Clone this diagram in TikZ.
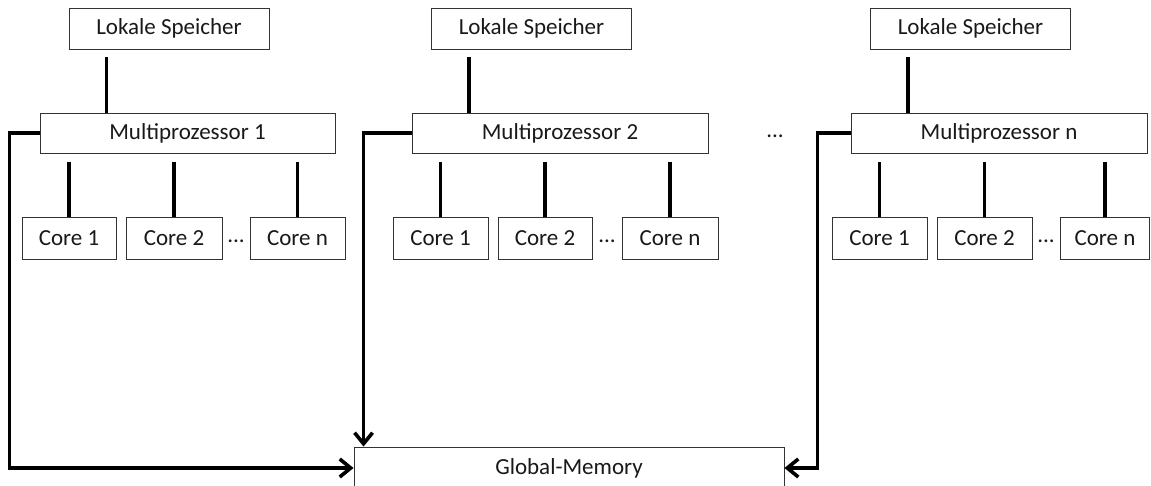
\documentclass[tikz,border=0pt]{standalone}
\usepackage{fontspec}
\setmainfont{Carlito}
\usetikzlibrary{arrows.meta,calc}
\begin{document}
\begin{tikzpicture}[x=1pt,y=-1pt,
  box/.style={draw=black!80,line width=0.9pt,fill=white,inner sep=0pt,
    font=\fontsize{23}{27}\selectfont,text=black!90},
  lsbox/.style={box,minimum width=200pt,minimum height=41pt},
  mpbox/.style={box,minimum width=296pt,minimum height=40pt},
  corebox/.style={box,minimum width=95pt,minimum height=42pt},
  conn/.style={line width=3.6pt,black},
  arr/.style={conn,-{Straight Barb[length=11pt,width=18pt,line width=3.6pt]}},
  dots/.style={inner sep=0pt,font=\fontsize{23}{27}\selectfont,text=black!90}]
\useasboundingbox (0,0) rectangle (1151,486);
\clip (0,0) rectangle (1151,486);
% Lokale Speicher
\node[lsbox] (ls1) at (169,28.5) {Lokale Speicher};
\node[lsbox] (ls2) at (531.5,28.5) {Lokale Speicher};
\node[lsbox] (ls3) at (970.5,28.5) {Lokale Speicher};
% Multiprozessoren
\node[mpbox,minimum width=295pt] (mp1) at (187.5,133) {Multiprozessor 1};
\node[mpbox] (mp2) at (560,133) {Multiprozessor 2};
\node[mpbox] (mp3) at (999,133) {Multiprozessor n};
\node[dots] (d0) at (775,136) {...};
% Cores
\node[corebox,minimum width=94pt] (c11) at (69,238) {Core 1};
\node[corebox,minimum width=96pt] (c12) at (174,238) {Core 2};
\node[corebox] (c1n) at (297.5,238) {Core n};
\node[dots] (d1) at (236,241) {...};
\node[corebox] (c21) at (440.5,238) {Core 1};
\node[corebox,minimum width=94pt] (c22) at (545,238) {Core 2};
\node[corebox,minimum width=96pt] (c2n) at (670,238) {Core n};
\node[dots] (d2) at (607,241) {...};
\node[corebox] (c31) at (879.5,238) {Core 1};
\node[corebox] (c32) at (984.5,238) {Core 2};
\node[corebox,minimum width=89pt] (c3n) at (1105,238) {Core n};
\node[dots] (d3) at (1046,241) {...};
% Global memory
\node[box,minimum width=430pt,minimum height=42pt] (gm) at (569,468) {Global-Memory};
% LS -> MP
\foreach \i in {1,2,3}{
  \draw[conn,shorten <=8pt] ($(ls\i.south west)+(38,0)$) coordinate (t\i) -- (t\i |- mp\i.north);
}
% MP -> cores
\foreach \i in {1,2,3}{
  \foreach \j in {1,2,n}{
    \draw[conn,shorten <=9pt] (mp\i.south -| c\i\j.north) -- (c\i\j.north);
  }
}
% MP -> Global memory
\draw[arr] (mp1.west) -- ++(-30,0) |- (gm.west);
\draw[arr] (mp2.west) -| ($(gm.north west)+(10,0)$);
\draw[arr] (mp3.west) -- ++(-33,0) |- (gm.east);
\end{tikzpicture}
\end{document}
